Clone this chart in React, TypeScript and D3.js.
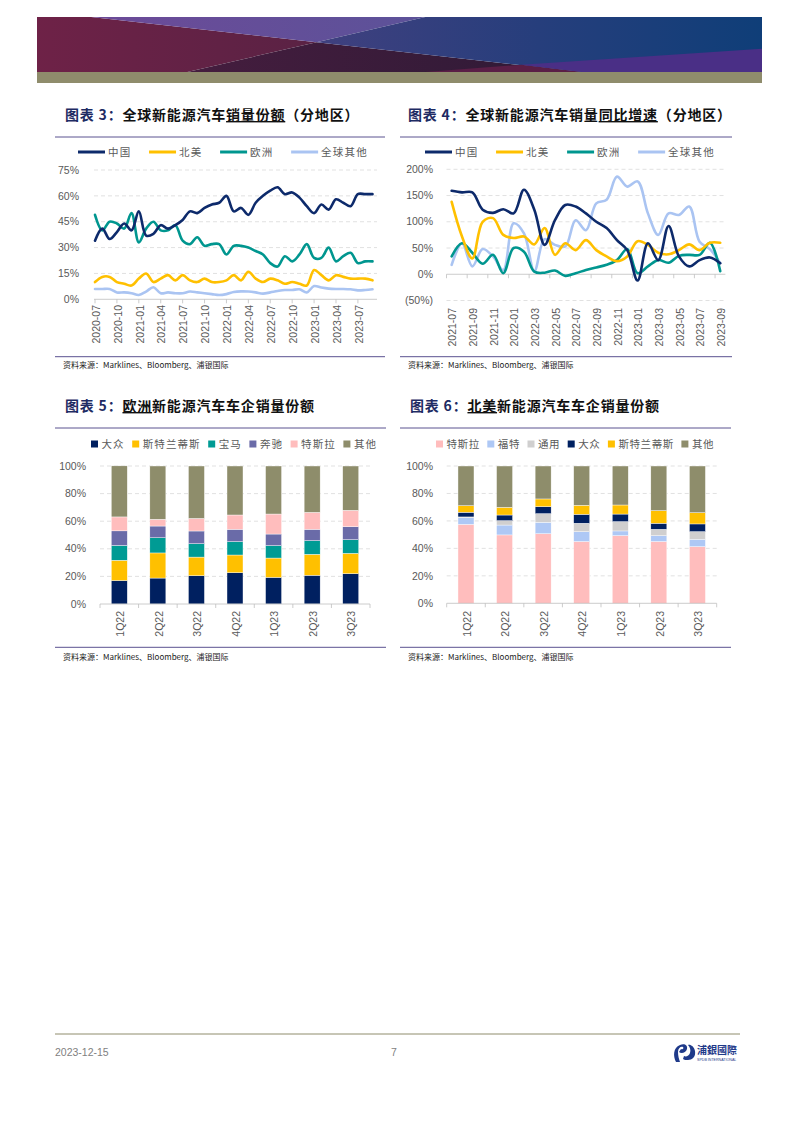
import React from 'react';
import * as d3 from 'd3';

// ---------- DATA ----------
const months3 = ['2020-07','2020-08','2020-09','2020-10','2020-11','2020-12','2021-01','2021-02','2021-03','2021-04','2021-05','2021-06','2021-07','2021-08','2021-09','2021-10','2021-11','2021-12','2022-01','2022-02','2022-03','2022-04','2022-05','2022-06','2022-07','2022-08','2022-09','2022-10','2022-11','2022-12','2023-01','2023-02','2023-03','2023-04','2023-05','2023-06','2023-07','2023-08','2023-09'];
const chinaShare = [34,41,35,39,44,40,51,37,38,43,41,43,46,51,50,53,55,56,60,51,53,49,56,60,63,65,61,62,59,54,50,55,52,58,56,54,61,61,61];
const naShare = [10,13,13,10,9,8,12,15,10,12,14,11,14,11,10,12,10,10,11,14,11,16,12,10,12,11,9,10,9,8,17,14,11,14,13,12,12,12,11];
const euShare = [49,40,45,44,41,50,33,41,45,40,40,43,34,32,36,31,32,32,26,31,31,30,28,26,21,19,25,22,26,32,24,24,30,22,25,27,21,22,22];
const rowShare = [6,6,6,4,4,3.5,2.5,4.5,7,3.5,4,3.5,3.5,4.5,4,3.5,3,2.5,3,4.2,4.6,4.5,4,3.3,4,4.8,5.4,5.4,5.8,4,7.7,6.8,6.2,6,6,5.8,5.2,5.4,5.8];
const shareTicks = [0,15,30,45,60,75];

const months4 = ['2021-07','2021-08','2021-09','2021-10','2021-11','2021-12','2022-01','2022-02','2022-03','2022-04','2022-05','2022-06','2022-07','2022-08','2022-09','2022-10','2022-11','2022-12','2023-01','2023-02','2023-03','2023-04','2023-05','2023-06','2023-07','2023-08','2023-09'];
const chinaYoY = [159,156,156,123,117,124,116,161,123,56,103,132,129,116,100,88,65,46,-12,59,27,92,34,15,27,32,21];
const naYoY = [138,72,30,100,107,75,69,72,57,88,37,59,46,65,46,34,25,34,63,56,41,38,46,57,46,60,60];
const euYoY = [34,59,41,20,37,2,50,43,5,3,7,-3,2,8,13,18,27,48,2,15,27,22,35,37,37,60,6];
const rowYoY = [18,59,15,48,34,8,97,78,6,67,56,53,103,84,135,142,186,167,177,116,75,116,113,129,62,48,21];
const yoyTicks = [-50,0,50,100,150,200];

const regionNames = ['中国','北美','欧洲','全球其他'];
const regionColors = ['#0D2A6B','#FFC000','#00968F','#AAC4F2'];

const quarters = ['1Q22','2Q22','3Q22','4Q22','1Q23','2Q23','3Q23'];
const eu_vw = [17,18.8,20.5,22.7,19.3,20.8,22];
const eu_stellantis = [14.7,18.2,13.5,12.8,14,15.2,14.7];
const eu_bmw = [10.7,11,9.7,9.7,9,9.9,9.9];
const eu_benz = [10.6,8.5,9.2,8.9,8.4,8.2,9.4];
const eu_tesla = [10.1,4.9,9.1,10.4,14.5,12.3,11.9];
const eu_others = [37,38.6,38,35.5,34.8,33.6,32.1];
const euMakers = ['大众','斯特兰蒂斯','宝马','奔驰','特斯拉','其他'];
const euColors = ['#002060','#FFC000','#009B94','#6A6BA8','#FFBDBD','#8E8D6B'];

const na_tesla = [57.5,49.8,50.7,45,49.3,45,41.3];
const na_ford = [4.9,7.2,8.3,7.2,3.4,4.3,5.3];
const na_gm = [0.5,3.2,6.3,6.1,6.8,4.6,5.6];
const na_vw = [3.4,4.1,5.1,6.5,5.5,4.4,5.6];
const na_stellantis = [4.8,5.6,5.6,6.6,6.6,9.2,8.2];
const na_others = [28.9,30.1,24,28.6,28.4,32.5,34];
const naMakers = ['特斯拉','福特','通用','大众','斯特兰蒂斯','其他'];
const naColors = ['#FFBDBD','#AEC8F5','#D0CFCF','#002060','#FFC000','#8E8D6B'];
const pctTicks = [0,20,40,60,80,100];

// ---------- STYLE ----------
const FONT_NUM = "'Liberation Sans', Arial, sans-serif";
const FONT_CJK = "'Noto Sans CJK SC', 'Noto Sans', sans-serif";
const TXT = '#595959';
const GRID = '#D9D9D9';
const AXIS = '#BFBFBF';
const RULE = '#5A5290';

function Title({ x, y, num, pre, u, post }: any) {
  return (
    <text x={x} y={y} fontFamily={FONT_CJK} fontSize={14} fontWeight={700} letterSpacing={0.8}>
      <tspan fill="#1E2B63">图表 {num}：</tspan>
      <tspan fill="#111">{pre}</tspan>
      <tspan fill="#111" textDecoration="underline">{u}</tspan>
      <tspan fill="#111">{post}</tspan>
    </text>
  );
}

function Source({ x, y }: any) {
  return (
    <text x={x} y={y} fontFamily={FONT_CJK} fontSize={8} fill="#222">资料来源：Marklines、Bloomberg、浦银国际</text>
  );
}

function LineLegend({ x, y }: any) {
  let cx = x;
  const items: any[] = [];
  regionNames.forEach((n, i) => {
    items.push(
      <g key={n}>
        <line x1={cx} x2={cx + 27} y1={y} y2={y} stroke={regionColors[i]} strokeWidth={3} />
        <text x={cx + 30} y={y} dy="0.35em" fontFamily={FONT_CJK} fontSize={10.5} letterSpacing={1.2} fill={TXT}>{n}</text>
      </g>
    );
    cx += 30 + n.length * 11.67 + 17.7;
  });
  return <g>{items}</g>;
}

function SquareLegend({ x, y, names, colors, adv }: any) {
  let cx = x;
  const items: any[] = [];
  names.forEach((n: string, i: number) => {
    items.push(
      <g key={n}>
        <rect x={cx} y={y - 3.5} width={7} height={7} fill={colors[i]} />
        <text x={cx + 10.5} y={y} dy="0.35em" fontFamily={FONT_CJK} fontSize={10.5} letterSpacing={adv - 10.5} fill={TXT}>{n}</text>
      </g>
    );
    cx += 10.5 + n.length * adv + 7.5;
  });
  return <g>{items}</g>;
}

function Chart3() {
  const x = d3.scaleLinear().domain([0, months3.length - 1]).range([95, 372.5]);
  const y = d3.scaleLinear().domain([0, 75]).range([299.3, 170]);
  const line = d3.line<number>().x((_, i) => x(i)).y(d => y(d)).curve(d3.curveCatmullRom.alpha(0.5));
  const series = [chinaShare, naShare, euShare, rowShare];
  return (
    <g>
      <Title x={65} y={120} num="3" pre="全球新能源汽车" u="销量份额" post="（分地区）" />
      <line x1={55} x2={385} y1={137} y2={137} stroke={RULE} strokeWidth={1} />
      <LineLegend x={78} y={152} />
      {shareTicks.map(t => (
        <g key={t}>
          {t > 0 && <line x1={94} x2={377} y1={y(t)} y2={y(t)} stroke={GRID} strokeDasharray="4,3" strokeWidth={0.8} />}
          <text x={79} y={y(t)} dy="0.35em" textAnchor="end" fontFamily={FONT_NUM} fontSize={10.5} fill={TXT}>{t}%</text>
        </g>
      ))}
      <line x1={94} x2={377} y1={y(0)} y2={y(0)} stroke={AXIS} strokeWidth={0.8} />
      {months3.map((m, i) => i % 3 === 0 ? (
        <g key={m}>
          <line x1={x(i)} x2={x(i)} y1={y(0)} y2={y(0) + 4} stroke={AXIS} strokeWidth={0.8} />
          <text transform={`translate(${x(i) + 1},305) rotate(-90)`} dy="0.35em" textAnchor="end" fontFamily={FONT_NUM} fontSize={10.5} fill={TXT}>{m}</text>
        </g>
      ) : null)}
      {series.map((s, k) => (
        <path key={k} d={line(s) || ''} fill="none" stroke={regionColors[k]} strokeWidth={2.6} strokeLinejoin="round" strokeLinecap="round" />
      )).reverse()}
      <line x1={55} x2={385} y1={356.7} y2={356.7} stroke={RULE} strokeWidth={1} />
      <Source x={63} y={367.5} />
    </g>
  );
}

function Chart4() {
  const x0 = 446.5, x1 = 725.4;
  const step = (x1 - x0) / months4.length;
  const cx = (i: number) => x0 + (i + 0.5) * step;
  const y = d3.scaleLinear().domain([-50, 200]).range([300.5, 169.3]);
  const line = d3.line<number>().x((_, i) => cx(i)).y(d => y(d)).curve(d3.curveCatmullRom.alpha(0.5));
  const series = [chinaYoY, naYoY, euYoY, rowYoY];
  const fmt = (t: number) => t < 0 ? `(${-t}%)` : `${t}%`;
  return (
    <g>
      <Title x={408} y={120} num="4" pre="全球新能源汽车销量" u="同比增速" post="（分地区）" />
      <line x1={400} x2={732} y1={137} y2={137} stroke={RULE} strokeWidth={1} />
      <LineLegend x={425} y={152} />
      {yoyTicks.map(t => (
        <g key={t}>
          {t !== 0 && <line x1={x0} x2={x1} y1={y(t)} y2={y(t)} stroke={GRID} strokeDasharray="4,3" strokeWidth={0.8} />}
          <text x={433} y={y(t)} dy="0.35em" textAnchor="end" fontFamily={FONT_NUM} fontSize={10.5} fill={TXT}>{fmt(t)}</text>
        </g>
      ))}
      <line x1={x0} x2={x1} y1={y(0)} y2={y(0)} stroke={AXIS} strokeWidth={0.8} />
      {months4.map((m, i) => i % 2 === 0 ? (
        <g key={m}>
          <line x1={x0 + i * step} x2={x0 + i * step} y1={y(0)} y2={y(0) + 4} stroke={AXIS} strokeWidth={0.8} />
          <text transform={`translate(${cx(i) + 1},308) rotate(-90)`} dy="0.35em" textAnchor="end" fontFamily={FONT_NUM} fontSize={10.5} fill={TXT}>{m}</text>
        </g>
      ) : null)}
      {series.map((s, k) => (
        <path key={k} d={line(s) || ''} fill="none" stroke={regionColors[k]} strokeWidth={2.6} strokeLinejoin="round" strokeLinecap="round" />
      )).reverse()}
      <line x1={400} x2={732} y1={356.7} y2={356.7} stroke={RULE} strokeWidth={1} />
      <Source x={408} y={367.5} />
    </g>
  );
}

function BarChart({ left, axisX0, axisX1, yTop, yBot, labelRight, titleProps, names, colors, series, legendX, legendAdv }: any) {
  const x = d3.scaleBand().domain(quarters).range([axisX0, axisX1]);
  const y = d3.scaleLinear().domain([0, 100]).range([yBot, yTop]);
  const rows = quarters.map((q, i) => {
    const r: any = { q };
    names.forEach((n: string, k: number) => { r[n] = series[k][i]; });
    return r;
  });
  const stacked = d3.stack().keys(names)(rows);
  const bw = 16;
  const ruleX1 = left + 331;
  return (
    <g>
      <Title x={left + 10} y={411} {...titleProps} />
      <line x1={left} x2={ruleX1} y1={428} y2={428} stroke={RULE} strokeWidth={1} />
      <SquareLegend x={legendX} y={444} names={names} colors={colors} adv={legendAdv} />
      {pctTicks.map(t => (
        <g key={t}>
          {t > 0 && <line x1={axisX0} x2={axisX1} y1={y(t)} y2={y(t)} stroke={GRID} strokeDasharray="4,3" strokeWidth={0.8} />}
          <text x={labelRight} y={y(t)} dy="0.35em" textAnchor="end" fontFamily={FONT_NUM} fontSize={10.5} fill={TXT}>{t}%</text>
        </g>
      ))}
      {stacked.map((s, k) => (
        <g key={k}>
          {s.map((d: any, i: number) => (
            <rect key={i} x={(x(quarters[i]) as number) + x.bandwidth() / 2 - bw / 2} width={bw}
              y={y(d[1])} height={Math.max(0, y(d[0]) - y(d[1]))} fill={colors[k]} stroke="#fff" strokeWidth={0.4} />
          ))}
        </g>
      ))}
      <line x1={axisX0} x2={axisX1} y1={yBot} y2={yBot} stroke={AXIS} strokeWidth={0.8} />
      {d3.range(quarters.length + 1).map(i => {
        const xx = axisX0 + i * x.step();
        return <line key={i} x1={xx} x2={xx} y1={yBot} y2={yBot + 4} stroke={AXIS} strokeWidth={0.8} />;
      })}
      {quarters.map(q => (
        <text key={q} transform={`translate(${(x(q) as number) + x.bandwidth() / 2 + 1},611) rotate(-90)`} dy="0.35em" textAnchor="end" fontFamily={FONT_NUM} fontSize={10.5} fill={TXT}>{q}</text>
      ))}
      <line x1={left} x2={ruleX1} y1={647.3} y2={647.3} stroke={RULE} strokeWidth={1} />
      <Source x={left + 8} y={659.5} />
    </g>
  );
}

function Header() {
  const X0 = 37, W = 725, Y0 = 17, H = 55;
  const p = (u: number, v: number) => `${X0 + u * W},${Y0 + v * H}`;
  const tl1 = [0.0747, 0], c = [0.3855, 0.458], tr1 = [0.5356, 0], bl = [0.2074, 1], br = [0.752, 1];
  const pts = (arr: number[][]) => arr.map(a => p(a[0], a[1])).join(' ');
  return (
    <g>
      <defs>
        <linearGradient id="gLeft" x1="0" x2="1" y1="0" y2="0">
          <stop offset="0" stopColor="#6E2247" />
          <stop offset="1" stopColor="#5A2244" />
        </linearGradient>
        <linearGradient id="gTop" x1="0" x2="1" y1="0" y2="0">
          <stop offset="0" stopColor="#6C4A98" />
          <stop offset="1" stopColor="#5C5299" />
        </linearGradient>
        <linearGradient id="gBot" x1="0" x2="1" y1="0" y2="0">
          <stop offset="0" stopColor="#451D3E" />
          <stop offset="1" stopColor="#2E1A36" />
        </linearGradient>
        <linearGradient id="gRight" x1="0" x2="1" y1="0" y2="0">
          <stop offset="0" stopColor="#40407F" />
          <stop offset="0.5" stopColor="#263E7C" />
          <stop offset="1" stopColor="#0F3E78" />
        </linearGradient>
      </defs>
      <polygon points={pts([[0, 0], tl1, c, bl, [0, 1]])} fill="url(#gLeft)" />
      <polygon points={pts([tl1, tr1, c])} fill="url(#gTop)" />
      <polygon points={pts([bl, c, br])} fill="url(#gBot)" />
      <polygon points={pts([tr1, [1, 0], [1, 1], br, c])} fill="url(#gRight)" />
      <polygon points={pts([[0.536, 1], [0.668, 0.867], br])} fill="#5A1E46" />
      <polygon points={pts([[0.668, 0.867], [1, 0.578], [1, 1], br])} fill="#4A2F86" />
      <rect x={X0} y={Y0 + H} width={W} height={11} fill="#8F8C6C" />
    </g>
  );
}

function Footer() {
  return (
    <g>
      <line x1={55} x2={740} y1={1034} y2={1034} stroke="#8F8C6C" strokeWidth={1} />
      <text x={55} y={1056} fontFamily={FONT_NUM} fontSize={10.5} fill="#7F7F7F">2023-12-15</text>
      <text x={391} y={1056} fontFamily={FONT_NUM} fontSize={10.5} fill="#7F7F7F">7</text>
      <g>
        <path d="M676,1062 C673,1056 673,1048 680,1045 C684,1043 688,1045 687,1049 C686,1053 681,1054 679,1052 L681,1049 C683,1050 684,1048 683,1047 C681,1046 678,1048 678,1052 C678,1056 679,1059 680,1062 Z" fill="#1F3A8A" />
        <path d="M688,1060 C692,1060 696,1057 695,1051 C694,1046 690,1044 688,1045 C690,1047 691,1050 690,1053 C689,1056 686,1057 684,1056 L683,1059 C684,1060 686,1060 688,1060 Z" fill="#1F3A8A" />
        <text x={697} y={1054} fontFamily={FONT_CJK} fontSize={10} fontWeight={700} fill="#1F3A8A">浦銀國際</text>
        <text x={697} y={1060.5} fontFamily={FONT_NUM} fontSize={3.6} fill="#1F3A8A">SPDB INTERNATIONAL</text>
      </g>
    </g>
  );
}

export default function App() {
  return (
    <svg width={794} height={1123} viewBox="0 0 794 1123" style={{ position: 'absolute', left: 0, top: 0, background: '#fff' }}>
      <rect width={794} height={1123} fill="#fff" />
      <Header />
      <Chart3 />
      <Chart4 />
      <BarChart left={55} axisX0={100} axisX1={370} yTop={466} yBot={604} labelRight={86}
        titleProps={{ num: '5', pre: '', u: '欧洲', post: '新能源汽车车企销量份额' }}
        names={euMakers} colors={euColors}
        series={[eu_vw, eu_stellantis, eu_bmw, eu_benz, eu_tesla, eu_others]}
        legendX={91} legendAdv={11.6} />
      <BarChart left={400} axisX0={446.7} axisX1={716.7} yTop={466} yBot={603.3} labelRight={433}
        titleProps={{ num: '6', pre: '', u: '北美', post: '新能源汽车车企销量份额' }}
        names={naMakers} colors={naColors}
        series={[na_tesla, na_ford, na_gm, na_vw, na_stellantis, na_others]}
        legendX={436} legendAdv={11.1} />
      <Footer />
    </svg>
  );
}
